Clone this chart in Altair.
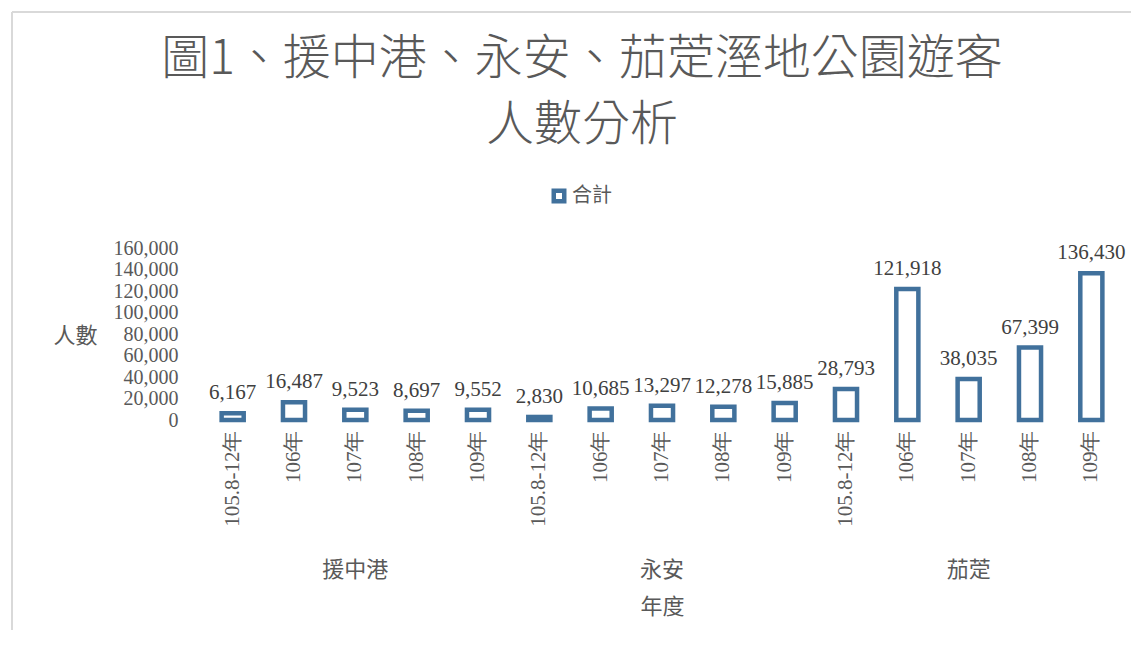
import altair as alt
import pandas as pd

groups = ["援中港"] * 5 + ["永安"] * 5 + ["茄萣"] * 5
years = ["105.8-12年", "106年", "107年", "108年", "109年"] * 3
values = [6167, 16487, 9523, 8697, 9552,
          2830, 10685, 13297, 12278, 15885,
          28793, 121918, 38035, 67399, 136430]
group_names = ["援中港", "永安", "茄萣"]
y_ticks = [0, 20000, 40000, 60000, 80000, 100000, 120000, 140000, 160000]
title_lines = ["圖1、援中港、永安、茄萣溼地公園遊客", "人數分析"]

keys = [g + "|" + y for g, y in zip(groups, years)]
df = pd.DataFrame({"key": keys, "group": groups, "year": years,
                   "value": values, "series": ["合計"] * len(values)})
gdf = pd.DataFrame({"key": [g + "|107年" for g in group_names], "group": group_names})
border = pd.DataFrame({"a": [0]})

SERIF = "Liberation Serif"
CJK = "Noto Sans CJK TC"
BLUE = "#41719C"
GRAY = "#595959"

xscale = alt.Scale(domain=keys, paddingInner=0.64, paddingOuter=0.32)
yscale = alt.Scale(domain=[0, 160000], nice=False)

xaxis = alt.Axis(labelExpr="split(datum.value, '|')[1]", labelAngle=-90,
                 labelFont=SERIF, labelFontSize=21, labelColor=GRAY,
                 labelPadding=10, ticks=False, domain=False, grid=False,
                 title="年度", titleFont=CJK, titleFontSize=22,
                 titleFontWeight="normal", titleColor=GRAY,
                 titleY=186, titleBaseline="middle")
yaxis = alt.Axis(values=y_ticks, format=",d", labelFont=SERIF, labelFontSize=20,
                 labelColor=GRAY, labelPadding=24, ticks=False, domain=False,
                 grid=False, labelOverlap=False, labelBound=False,
                 title="人數", titleAngle=0, titleFont=CJK, titleFontSize=22,
                 titleFontWeight="normal", titleColor=GRAY,
                 titleAlign="right", titleBaseline="middle",
                 titleX=-105, titleY=87)

X = alt.X("key:N", scale=xscale, sort=keys, axis=xaxis)
Y = alt.Y("value:Q", scale=yscale, axis=yaxis)

bars = alt.Chart(df).mark_bar(fill="white", strokeWidth=4.5).encode(
    x=X, y=Y,
    stroke=alt.Stroke("series:N", scale=alt.Scale(range=[BLUE]),
                      legend=alt.Legend(title=None, orient="none", legendX=347, legendY=-62,
                                        symbolType="square", symbolSize=110,
                                        symbolStrokeWidth=4.5, symbolFillColor="white",
                                        symbolStrokeColor=BLUE,
                                        labelFont=CJK, labelFontSize=20, labelColor=GRAY,
                                        labelOffset=3)),
)

labels = alt.Chart(df).mark_text(font=SERIF, fontSize=21, color="#404040",
                                 baseline="bottom", dy=-10).encode(
    x=X, y=Y,
    text=alt.Text("value:Q", format=","),
)

glabels = alt.Chart(gdf).mark_text(font=CJK, fontSize=22, color=GRAY,
                                   baseline="middle").encode(
    x=X,
    y=alt.value(322),
    text="group:N",
)

t1 = alt.Chart(border).mark_text(text=title_lines[0], font=CJK, fontSize=48, fontWeight=300,
                                 color=GRAY, baseline="middle", align="center").encode(
    x=alt.value(380), y=alt.value(-188))
t2 = alt.Chart(border).mark_text(text=title_lines[1], font=CJK, fontSize=48, fontWeight=300,
                                 color=GRAY, baseline="middle", align="center").encode(
    x=alt.value(380), y=alt.value(-122))

left_line = alt.Chart(border).mark_rule(color="#d9d9d9", strokeWidth=2).encode(
    x=alt.value(-190), y=alt.value(-236), y2=alt.value(420))
top_line = alt.Chart(border).mark_rule(color="#d9d9d9", strokeWidth=2).encode(
    x=alt.value(-190), x2=alt.value(940), y=alt.value(-236))

chart = alt.layer(left_line, top_line, t1, t2, bars, labels, glabels).properties(
    width=920, height=172,
    autosize="none",
    background="white",
    padding={"left": 194, "top": 240, "right": 9, "bottom": 210},
).configure_view(strokeWidth=0, stroke="transparent")

chart.save("out.html", embed_options={"renderer": "svg", "actions": False})
